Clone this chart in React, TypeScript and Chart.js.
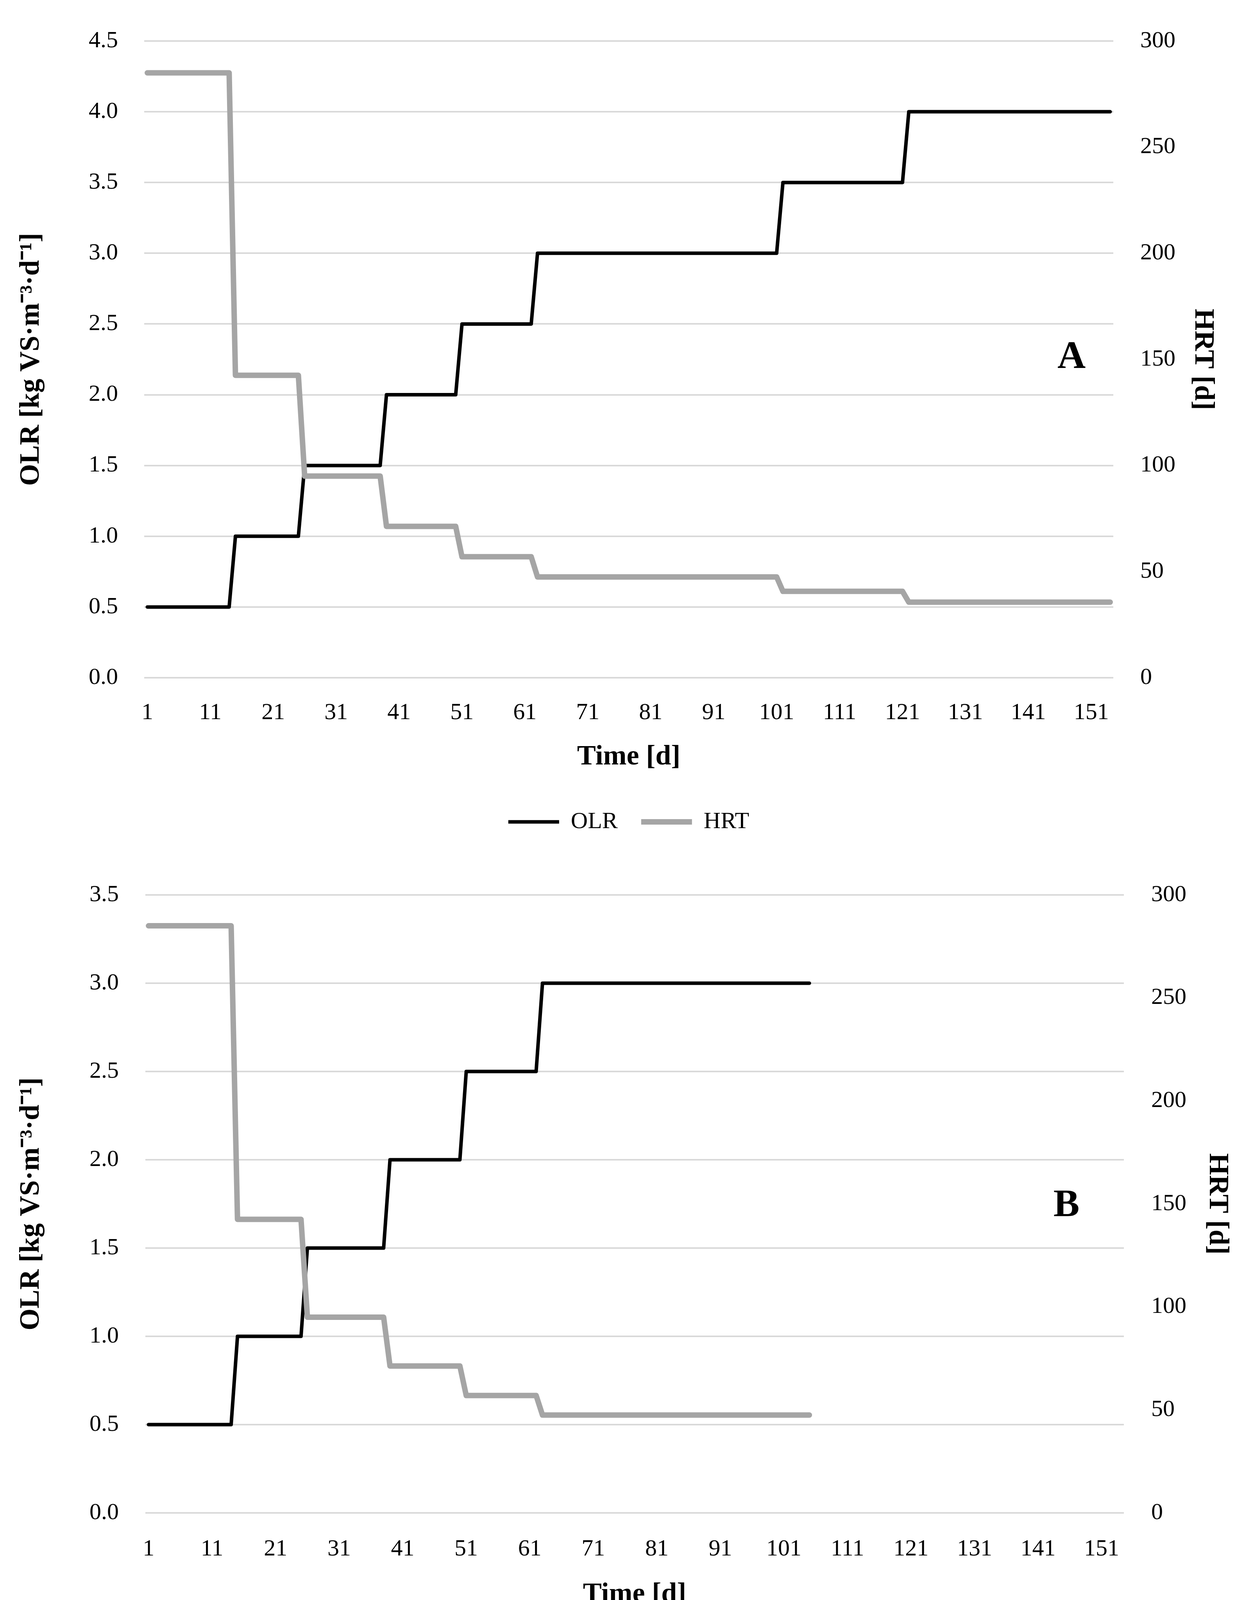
import React, { useRef, useEffect } from 'react';
import Chart from 'chart.js/auto';

const FONT = '"Liberation Serif", "Times New Roman", serif';

// Reactor A: feeding steps (first day, last day, OLR, HRT)
const stepStartA = [1, 15, 26, 39, 51, 63, 102, 122];
const stepEndA = [14, 25, 38, 50, 62, 101, 121, 154];
const olrA = [0.5, 1.0, 1.5, 2.0, 2.5, 3.0, 3.5, 4.0];
const hrtA = [285, 142.5, 95, 71.3, 57, 47.5, 40.7, 35.6];

// Reactor B
const stepStartB = [1, 15, 26, 39, 51, 63];
const stepEndB = [14, 25, 38, 50, 62, 105];
const olrB = [0.5, 1.0, 1.5, 2.0, 2.5, 3.0];
const hrtB = [285, 142.5, 95, 71.3, 57, 47.5];

const dayTicks = [1, 11, 21, 31, 41, 51, 61, 71, 81, 91, 101, 111, 121, 131, 141, 151];
const lastDay = 154;

const toPoints = (starts: number[], ends: number[], values: number[]) =>
  starts.flatMap((s, i) => [
    { x: s, y: values[i] },
    { x: ends[i], y: values[i] },
  ]);

// draws the big "A" / "B" tag inside the plot
const panelLabel = {
  id: 'panelLabel',
  afterDraw(chart: any, _args: any, opts: any) {
    const { ctx, chartArea } = chart;
    ctx.save();
    ctx.font = `bold 100px ${FONT}`;
    ctx.fillStyle = '#000';
    ctx.textAlign = 'center';
    ctx.textBaseline = 'middle';
    ctx.fillText(opts.text, chartArea.right - opts.dx, (chartArea.top + chartArea.bottom) / 2 + opts.dy);
    ctx.restore();
  },
};

type Box = {
  height: number;
  padTop: number;
  padBottom: number;
  leftW: number;
  rightW: number;
  xH: number;
  xTickPad: number;
  xTitlePad: number;
  leftTickPad: number;
  rightTickPad: number;
  leftTitlePad: number;
  rightTitlePad: number;
  labelDx: number;
  labelDy: number;
};

type StepChartProps = {
  tag: string;
  olrMax: number;
  starts: number[];
  ends: number[];
  olr: number[];
  hrt: number[];
  box: Box;
};

const StepChart: React.FC<StepChartProps> = ({ tag, olrMax, starts, ends, olr, hrt, box }) => {
  const chartRef = useRef<HTMLCanvasElement | null>(null);
  const chartInstance = useRef<Chart | null>(null);

  useEffect(() => {
    if (!chartRef.current) return;
    const ctx = chartRef.current.getContext('2d');
    if (!ctx) return;
    if (chartInstance.current) chartInstance.current.destroy();

    const tickFont = { family: FONT, size: 60, lineHeight: 1.2 };
    const titleFont = { family: FONT, size: 72, weight: 'bold' as const, lineHeight: 1 };

    chartInstance.current = new Chart(ctx, {
      type: 'line',
      data: {
        datasets: [
          {
            label: 'OLR',
            data: toPoints(starts, ends, olr),
            yAxisID: 'y',
            borderColor: '#000000',
            backgroundColor: '#000000',
            borderWidth: 9,
            pointRadius: 0,
            pointStyle: 'line',
            borderCapStyle: 'round',
            borderJoinStyle: 'round',
            tension: 0,
            order: 1,
          },
          {
            label: 'HRT',
            data: toPoints(starts, ends, hrt),
            yAxisID: 'y1',
            borderColor: '#A5A5A5',
            backgroundColor: '#A5A5A5',
            borderWidth: 14,
            pointRadius: 0,
            pointStyle: 'line',
            borderCapStyle: 'round',
            borderJoinStyle: 'round',
            tension: 0,
            order: 0,
          },
        ],
      },
      options: {
        animation: false,
        responsive: false,
        devicePixelRatio: 1,
        layout: { padding: { top: box.padTop, bottom: box.padBottom, left: 0, right: 0 } },
        scales: {
          x: {
            type: 'linear',
            min: 0.5,
            max: lastDay + 0.5,
            afterBuildTicks: (s: any) => {
              s.ticks = dayTicks.map(v => ({ value: v }));
            },
            afterFit: (s: any) => {
              s.height = box.xH;
            },
            grid: { display: false, drawTicks: false },
            border: { display: false },
            ticks: {
              autoSkip: false,
              maxRotation: 0,
              padding: box.xTickPad,
              font: tickFont,
              color: '#000',
              callback: (v: any) => String(v),
            },
            title: {
              display: true,
              text: 'Time [d]',
              color: '#000',
              font: titleFont,
              padding: { top: 0, bottom: box.xTitlePad },
            },
          },
          y: {
            position: 'left',
            min: 0,
            max: olrMax,
            afterFit: (s: any) => {
              s.width = box.leftW;
            },
            grid: { color: '#D9D9D9', lineWidth: 4, drawTicks: false },
            border: { display: false },
            ticks: {
              stepSize: 0.5,
              padding: box.leftTickPad,
              font: tickFont,
              color: '#000',
              callback: (v: any) => Number(v).toFixed(1),
            },
            title: {
              display: true,
              text: 'OLR [kg VS·m⁻³·d⁻¹]',
              color: '#000',
              font: titleFont,
              padding: { top: box.leftTitlePad, bottom: 0 },
            },
          },
          y1: {
            position: 'right',
            min: 0,
            max: 300,
            afterFit: (s: any) => {
              s.width = box.rightW;
            },
            grid: { display: false, drawTicks: false },
            border: { display: false },
            ticks: {
              stepSize: 50,
              padding: box.rightTickPad,
              font: tickFont,
              color: '#000',
            },
            title: {
              display: true,
              text: 'HRT [d]',
              color: '#000',
              font: titleFont,
              padding: { top: box.rightTitlePad, bottom: 0 },
            },
          },
        },
        plugins: {
          legend: {
            position: 'bottom',
            fullSize: false,
            labels: {
              usePointStyle: true,
              pointStyleWidth: 130,
              padding: 60,
              color: '#000',
              font: { family: FONT, size: 60 },
              sort: (a: any, b: any) => a.datasetIndex - b.datasetIndex,
            },
          },
          tooltip: { enabled: false },
          // @ts-ignore custom plugin options
          panelLabel: { text: tag, dx: box.labelDx, dy: box.labelDy },
        },
      },
      plugins: [panelLabel],
    });

    return () => {
      if (chartInstance.current) {
        chartInstance.current.destroy();
        chartInstance.current = null;
      }
    };
    // eslint-disable-next-line react-hooks/exhaustive-deps
  }, []);

  return (
    <canvas
      ref={chartRef}
      width={3186}
      height={box.height}
      style={{ display: 'block', width: 3186, height: box.height }}
    />
  );
};

const boxA: Box = {
  height: 2180,
  padTop: 91,
  padBottom: 36,
  leftW: 369,
  rightW: 337,
  xH: 279,
  xTickPad: 54,
  xTitlePad: 40,
  leftTickPad: 67,
  rightTickPad: 69,
  leftTitlePad: 44,
  rightTitlePad: 72,
  labelDx: 107,
  labelDy: -4,
};

const boxB: Box = {
  height: 2092,
  padTop: 111,
  padBottom: 24,
  leftW: 372,
  rightW: 310,
  xH: 245,
  xTickPad: 57,
  xTitlePad: 0,
  leftTickPad: 68,
  rightTickPad: 70,
  leftTitlePad: 44,
  rightTitlePad: 35,
  labelDx: 147,
  labelDy: 5,
};

export default function App() {
  return (
    <div style={{ position: 'absolute', left: 0, top: 0, width: 3186, height: 4272, background: '#fff' }}>
      <StepChart tag="A" olrMax={4.5} starts={stepStartA} ends={stepEndA} olr={olrA} hrt={hrtA} box={boxA} />
      <StepChart tag="B" olrMax={3.5} starts={stepStartB} ends={stepEndB} olr={olrB} hrt={hrtB} box={boxB} />
    </div>
  );
}
